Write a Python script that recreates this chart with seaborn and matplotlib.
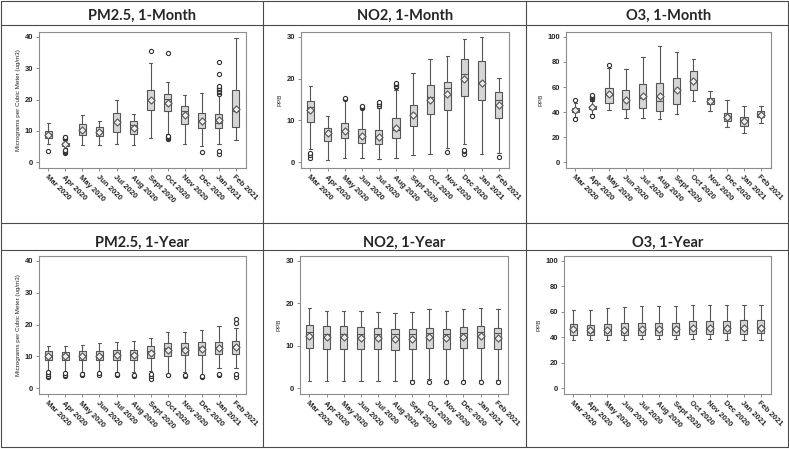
import pandas as pd
import matplotlib.pyplot as plt
import seaborn as sns
from matplotlib.lines import Line2D

months = ['Mar 2020', 'Apr 2020', 'May 2020', 'Jun 2020', 'Jul 2020', 'Aug 2020',
          'Sept 2020', 'Oct 2020', 'Nov 2020', 'Dec 2020', 'Jan 2021', 'Feb 2021']

# each row: low whisker, Q1, median, Q3, high whisker, mean
pm25_month = [
    (5.8, 7.7, 9.0, 10.1, 12.6, 8.8),
    (4.5, 5.2, 5.9, 6.3, 7.0, 5.7),
    (5.4, 8.8, 10.0, 12.2, 15.0, 10.4),
    (5.4, 8.3, 10.0, 11.3, 13.3, 9.6),
    (6.0, 9.8, 13.0, 15.7, 19.8, 12.8),
    (5.6, 8.9, 11.8, 13.1, 15.3, 11.0),
    (7.9, 16.6, 20.0, 23.0, 31.8, 19.8),
    (9.0, 16.4, 20.2, 21.8, 25.6, 18.8),
    (5.8, 12.2, 16.2, 18.1, 21.4, 15.0),
    (5.3, 10.8, 13.5, 15.6, 22.2, 13.1),
    (6.0, 10.8, 12.5, 15.3, 21.5, 13.5),
    (7.0, 11.2, 16.3, 22.9, 39.7, 17.0),
]
pm25_month_out = {
    'Mar 2020': [3.7],
    'Apr 2020': [3.1, 3.3, 3.6, 3.9, 7.4, 7.7, 8.0, 8.2],
    'Sept 2020': [35.4],
    'Oct 2020': [7.5, 7.8, 8.1, 8.5, 34.8],
    'Dec 2020': [3.3],
    'Jan 2021': [2.7, 3.7, 21.8, 22.3, 22.8, 23.3, 23.8, 24.2, 28.0, 32.0],
}

no2_month = [
    (3.3, 9.7, 13.3, 14.6, 18.3, 12.4),
    (0.5, 5.0, 7.0, 8.3, 11.1, 6.9),
    (1.0, 5.8, 7.5, 9.5, 14.8, 7.5),
    (1.0, 4.7, 6.3, 8.0, 12.8, 6.4),
    (0.9, 4.3, 6.3, 7.8, 13.0, 6.0),
    (1.0, 5.8, 7.7, 10.5, 17.3, 8.1),
    (1.8, 8.6, 11.3, 13.8, 21.3, 11.2),
    (2.1, 11.6, 15.5, 18.4, 24.7, 15.0),
    (3.4, 12.6, 17.7, 19.3, 25.3, 16.3),
    (4.5, 15.9, 21.0, 24.6, 29.4, 20.0),
    (1.9, 15.0, 19.2, 24.2, 30.0, 19.0),
    (2.2, 10.5, 15.0, 16.7, 20.2, 13.8),
]
no2_month_out = {
    'Mar 2020': [1.1, 1.8, 2.2],
    'May 2020': [15.1, 15.4],
    'Jun 2020': [13.0, 13.3, 13.5],
    'Jul 2020': [13.5, 13.9, 14.3],
    'Aug 2020': [17.9, 18.3, 18.7, 19.0],
    'Nov 2020': [2.4],
    'Dec 2020': [1.9, 2.7, 3.0],
    'Feb 2021': [1.3],
}

o3_month = [
    (36.5, 39.8, 42.0, 43.5, 47.5, 41.8),
    (38.5, 42.2, 43.7, 45.0, 49.0, 43.7),
    (41.4, 47.5, 53.5, 59.6, 75.0, 54.4),
    (35.6, 42.5, 50.0, 57.3, 74.5, 50.0),
    (35.6, 43.6, 51.0, 62.2, 84.0, 53.0),
    (34.8, 41.2, 49.0, 63.5, 92.5, 53.0),
    (38.5, 46.7, 57.0, 67.5, 88.0, 57.3),
    (49.1, 57.8, 64.0, 73.0, 82.3, 64.5),
    (40.6, 46.2, 49.0, 51.5, 57.0, 49.0),
    (28.5, 32.7, 37.0, 39.6, 49.4, 36.3),
    (23.0, 29.3, 33.5, 36.5, 44.5, 33.0),
    (31.5, 36.4, 38.5, 40.7, 45.0, 38.0),
]
o3_month_out = {
    'Mar 2020': [34.3, 49.8],
    'Apr 2020': [37.0, 50.2, 51.2, 52.2, 53.2, 54.0],
    'May 2020': [77.8],
}

pm25_year = [
    (5.5, 8.9, 10.5, 11.6, 13.3, 10.0),
    (5.2, 8.8, 10.3, 11.4, 13.2, 10.0),
    (5.0, 8.9, 10.5, 11.6, 13.5, 10.1),
    (5.0, 8.9, 10.5, 11.6, 14.2, 10.2),
    (5.0, 8.9, 10.6, 12.0, 14.5, 10.4),
    (5.2, 8.9, 10.6, 12.0, 14.8, 10.4),
    (5.3, 9.4, 11.8, 13.2, 15.7, 11.2),
    (4.6, 10.0, 12.5, 14.1, 17.7, 12.1),
    (5.0, 10.3, 12.6, 14.2, 17.7, 12.1),
    (4.3, 10.4, 13.0, 14.6, 18.3, 12.4),
    (6.3, 10.6, 13.0, 14.6, 19.6, 12.6),
    (6.5, 10.9, 13.3, 14.9, 18.8, 12.8),
]
pm25_year_out = {
    'Mar 2020': [3.6, 4.0, 4.5, 5.0],
    'Apr 2020': [3.9, 4.2, 4.8],
    'May 2020': [4.1, 4.5],
    'Jun 2020': [4.2, 4.7],
    'Jul 2020': [4.1, 4.6],
    'Aug 2020': [3.9, 4.3],
    'Sept 2020': [2.9, 3.7, 4.4],
    'Oct 2020': [4.1],
    'Nov 2020': [3.7, 4.2],
    'Dec 2020': [3.5, 3.9],
    'Jan 2021': [4.1, 4.6],
    'Feb 2021': [3.5, 4.4, 20.6, 21.8],
}

no2_year = [
    (1.8, 9.5, 13.3, 15.0, 18.8, 12.4),
    (1.6, 9.2, 12.8, 14.6, 18.2, 12.0),
    (1.6, 9.2, 12.8, 14.6, 18.2, 12.0),
    (1.6, 9.2, 12.8, 14.5, 18.1, 11.9),
    (1.6, 9.2, 12.8, 14.3, 17.9, 11.8),
    (1.6, 9.0, 12.7, 14.0, 17.7, 11.7),
    (2.0, 9.2, 12.8, 14.0, 17.9, 11.7),
    (2.2, 9.4, 13.0, 14.3, 18.7, 12.0),
    (2.0, 9.2, 12.8, 14.0, 18.3, 11.8),
    (2.0, 9.4, 13.0, 14.5, 18.6, 12.0),
    (2.0, 9.5, 13.3, 14.6, 18.8, 12.2),
    (2.0, 9.2, 13.0, 14.3, 18.6, 11.9),
]
no2_year_out = {
    'Sept 2020': [1.5], 'Oct 2020': [1.5], 'Nov 2020': [1.4],
    'Dec 2020': [1.5], 'Jan 2021': [1.5], 'Feb 2021': [1.5],
}

o3_year = [
    (37.5, 42.0, 45.5, 50.3, 61.7, 46.5),
    (37.5, 41.5, 44.0, 49.5, 61.5, 45.5),
    (38.0, 42.0, 45.5, 50.3, 63.3, 46.0),
    (38.0, 42.0, 45.5, 51.0, 64.0, 46.0),
    (38.6, 42.0, 46.0, 51.2, 64.7, 46.5),
    (38.6, 42.0, 45.5, 51.0, 64.5, 46.2),
    (38.6, 42.0, 45.5, 51.5, 64.2, 46.2),
    (38.8, 42.5, 47.0, 52.8, 65.7, 47.3),
    (38.4, 42.8, 47.0, 52.8, 65.7, 47.3),
    (38.0, 43.3, 47.0, 53.0, 65.7, 47.6),
    (37.8, 42.8, 47.0, 53.3, 65.7, 47.5),
    (37.7, 43.0, 47.0, 53.3, 65.0, 47.5),
]
o3_year_out = {}

sns.set_style('ticks')
plt.rcParams['font.family'] = ['Liberation Sans', 'DejaVu Sans']

W, H = 789, 449
fig = plt.figure(figsize=(W / 100, H / 100), dpi=100)


def px_axes(x0, y0, x1, y1):
    return fig.add_axes([x0 / W, 1 - y1 / H, (x1 - x0) / W, (y1 - y0) / H])


def draw_panel(ax, stats, outliers, ymax, yticks, ylabel):
    box_df = pd.DataFrame([(m, v) for m, s in zip(months, stats) for v in s[:5]],
                          columns=['month', 'value'])
    sns.boxplot(data=box_df, x='month', y='value', order=months, whis=(0, 100),
                width=0.42, color='#d6d6d6', linecolor='#555555', linewidth=0.8,
                fliersize=0, ax=ax)
    out_df = pd.DataFrame([(m, v) for m, vals in outliers.items() for v in vals],
                          columns=['month', 'value'])
    if len(out_df):
        sns.stripplot(data=out_df, x='month', y='value', order=months, jitter=False,
                      marker='o', size=3, color='white', edgecolor='#333333',
                      linewidth=0.8, ax=ax, zorder=4)
    sns.stripplot(x=months, y=[s[5] for s in stats], order=months, jitter=False,
                  marker='D', size=3.6, color='#eeeeee', edgecolor='#555555',
                  linewidth=0.8, ax=ax, zorder=5)
    ax.set_xlim(-0.55, 11.6)
    ax.set_ylim(-0.045 * ymax, ymax * 1.038)
    ax.set_yticks(yticks)
    ax.set_xlabel('')
    ax.set_ylabel(ylabel, fontsize=4.5, labelpad=3)
    ax.tick_params(axis='both', labelsize=5.5, length=2.5, width=0.6,
                   color='#777777', pad=1.5)
    for lbl in ax.get_xticklabels() + ax.get_yticklabels():
        lbl.set_fontweight('bold')
    plt.setp(ax.get_xticklabels(), rotation=-45, ha='left', rotation_mode='anchor')
    for sp in ax.spines.values():
        sp.set_color('#8c8c8c')
        sp.set_linewidth(0.8)


panels = [
    ((39, 32, 246, 168), pm25_month, pm25_month_out, 40, [0, 10, 20, 30, 40],
     'Micrograms per Cubic Meter (ug/m3)', 'PM2.5, 1-Month', 16),
    ((301, 32, 509, 168), no2_month, no2_month_out, 30, [0, 10, 20, 30],
     'PPB', 'NO2, 1-Month', 16),
    ((566, 32, 771, 168), o3_month, o3_month_out, 100, [0, 20, 40, 60, 80, 100],
     'PPB', 'O3, 1-Month', 16),
    ((39, 256, 246, 394), pm25_year, pm25_year_out, 40, [0, 10, 20, 30, 40],
     'Micrograms per Cubic Meter (ug/m3)', 'PM2.5, 1-Year', 243),
    ((300, 256, 508, 394), no2_year, no2_year_out, 30, [0, 10, 20, 30],
     'PPB', 'NO2, 1-Year', 243),
    ((564, 256, 771, 394), o3_year, o3_year_out, 100, [0, 20, 40, 60, 80, 100],
     'PPB', 'O3, 1-Year', 243),
]

for box, stats, outs, ymax, yticks, ylabel, title, ty in panels:
    ax = px_axes(*box)
    draw_panel(ax, stats, outs, ymax, yticks, ylabel)
    fig.text((box[0] + box[2]) / 2 / W, 1 - ty / H, title, ha='center', va='center',
             fontsize=10.5, fontweight='bold', family=['Lato', 'DejaVu Sans'])

# panel borders
border = '#4a4a4a'
for x in (1, 263, 526, 787.5):
    fig.add_artist(Line2D([x / W, x / W], [1 - 1 / H, 1 - 447 / H], color=border, lw=0.8))
for y in (1, 25, 223, 250, 447):
    fig.add_artist(Line2D([1 / W, 787.5 / W], [1 - y / H, 1 - y / H], color=border, lw=0.8))

fig.savefig('out.png', dpi=100)
